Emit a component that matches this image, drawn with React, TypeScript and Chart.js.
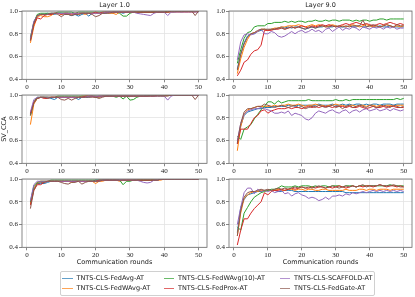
import React, { useEffect, useRef } from "react";
import { Chart, registerables } from "chart.js";

Chart.register(...registerables);

// ---------- data ----------
const ROUNDS = [1,2,3,4,5,6,7,8,9,10,11,12,13,14,15,16,17,18,19,20,21,22,23,24,25,26,27,28,29,30,31,32,33,34,35,36,37,38,39,40,41,42,43,44,45,46,47,48,49,50];
const SERIES_NAMES = ["TNTS-CLS-FedAvg-AT","TNTS-CLS-FedWAvg-AT","TNTS-CLS-FedWAvg(10)-AT","TNTS-CLS-FedProx-AT","TNTS-CLS-SCAFFOLD-AT","TNTS-CLS-FedGate-AT"];
const SERIES_COLORS = ["#1f77b4","#ff7f0e","#2ca02c","#d62728","#9467bd","#8c564b"];
const LAYER_TITLES = ["Layer 1.0","Layer 9.0"];
const X_TICKS = [0,10,20,30,40,50];
const Y_TICKS = [0.4,0.6,0.8,1.0];
const X_LABEL = "Communication rounds";
const Y_LABEL = "SV_CCA";

// Layer 1.0, row 1
const l1r1FedAvg = [0.75,0.90,0.96,0.97,0.97,0.98,0.97,0.97,0.98,0.98, 0.97,0.97,0.96,0.97,0.955,0.97,0.98,0.955,0.98,0.98, 0.98,0.98,0.98,0.99,0.98,0.99,0.99,0.98,0.99,0.99, 0.99,0.99,0.99,0.99,0.99,0.99,0.99,0.99,0.99,0.99, 0.99,0.99,0.99,1.0,0.99,1.0,1.0,1.0,1.0,1.0];
const l1r1FedWAvg = [0.72,0.86,0.95,0.96,0.95,0.95,0.96,0.98,0.98,0.97, 0.98,0.97,0.98,0.98,0.97,0.98,0.97,0.98,0.98,0.98, 0.98,0.98,0.99,0.98,0.98,0.97,0.99,0.99,0.99,0.99, 0.99,0.99,0.99,0.99,0.99,0.99,0.99,0.99,0.99,0.99, 0.99,0.99,0.99,0.99,0.99,0.99,0.99,0.99,0.99,1.0];
const l1r1FedWAvg10 = [0.77,0.90,0.97,0.98,0.98,0.98,0.98,0.98,0.99,0.99, 0.99,0.99,0.99,0.98,0.99,0.99,0.99,0.99,0.99,0.99, 0.99,0.99,0.99,0.99,0.99,0.99,0.98,0.955,0.955,0.98, 0.99,0.99,0.99,0.99,0.99,0.99,0.99,0.99,0.99,0.99, 1.0,1.0,1.0,1.0,1.0,1.0,1.0,1.0,1.0,1.0];
const l1r1FedProx = [0.74,0.88,0.94,0.93,0.96,0.97,0.97,0.98,0.98,0.97, 0.98,0.98,0.97,0.98,0.98,0.98,0.98,0.98,0.98,0.99, 0.98,0.99,0.99,0.99,0.99,0.99,0.99,0.99,0.99,0.99, 0.99,0.99,0.99,0.99,0.99,0.99,0.99,0.99,0.99,0.99, 0.99,1.0,1.0,1.0,1.0,1.0,1.0,1.0,1.0,1.0];
const l1r1Scaffold = [0.76,0.91,0.96,0.97,0.97,0.97,0.98,0.98,0.98,0.98, 0.98,0.98,0.98,0.98,0.98,0.98,0.98,0.98,0.98,0.98, 0.98,0.98,0.99,0.99,0.99,0.99,0.99,0.99,0.99,0.99, 0.99,0.98,0.975,0.97,0.965,0.96,0.98,0.99,0.99,0.99, 0.96,0.99,0.99,0.99,0.99,0.99,0.99,0.99,0.99,0.99];
const l1r1FedGate = [0.74,0.89,0.96,0.97,0.97,0.97,0.98,0.98,0.97,0.95, 0.97,0.97,0.96,0.97,0.97,0.98,0.98,0.98,0.97,0.95, 0.96,0.98,0.98,0.98,0.99,0.99,0.99,0.99,0.99,0.99, 0.99,0.99,0.99,0.99,0.99,0.99,0.99,0.99,0.99,0.99, 0.99,1.0,1.0,1.0,1.0,1.0,1.0,1.0,0.96,1.0];

// Layer 1.0, row 2
const l1r2FedAvg = [0.83,0.93,0.97,0.98,0.98,0.98,0.97,0.96,0.98,0.98, 0.98,0.98,0.98,0.98,0.96,0.98,0.98,0.98,0.99,0.98, 0.98,0.99,0.99,0.99,0.99,0.99,0.99,0.99,0.99,0.99, 0.99,0.99,0.99,0.99,1.0,1.0,1.0,1.0,1.0,1.0, 1.0,1.0,1.0,1.0,1.0,1.0,1.0,1.0,1.0,1.0];
const l1r2FedWAvg = [0.74,0.92,0.97,0.98,0.98,0.98,0.98,0.98,0.98,0.98, 0.98,0.98,0.98,0.98,0.98,0.99,0.99,0.99,0.99,0.99, 0.98,0.99,0.99,0.99,0.99,0.99,0.99,0.99,0.99,0.99, 0.99,0.99,0.99,0.99,0.99,1.0,1.0,1.0,1.0,1.0, 1.0,1.0,1.0,1.0,1.0,1.0,1.0,1.0,1.0,1.0];
const l1r2FedWAvg10 = [0.82,0.94,0.98,0.98,0.98,0.98,0.98,0.98,0.99,0.99, 0.99,0.99,0.99,0.99,0.99,0.99,0.99,0.99,0.99,0.99, 0.99,0.99,0.99,0.99,0.99,0.98,0.99,0.965,0.99,0.955, 0.96,0.98,0.99,0.99,0.99,1.0,1.0,1.0,1.0,1.0, 1.0,1.0,1.0,1.0,1.0,1.0,1.0,1.0,1.0,1.0];
const l1r2FedProx = [0.84,0.94,0.97,0.98,0.97,0.97,0.98,0.98,0.98,0.98, 0.98,0.98,0.98,0.98,0.98,0.98,0.99,0.99,0.99,0.98, 0.99,0.99,0.99,0.99,0.99,0.99,0.99,0.99,0.99,0.99, 0.99,0.99,0.99,0.99,0.99,0.99,0.99,1.0,1.0,1.0, 1.0,1.0,1.0,1.0,1.0,1.0,1.0,1.0,1.0,1.0];
const l1r2Scaffold = [0.85,0.96,0.98,0.98,0.98,0.98,0.98,0.98,0.98,0.98, 0.98,0.98,0.98,0.98,0.98,0.98,0.98,0.99,0.99,0.99, 0.99,0.99,0.99,0.99,0.99,0.99,0.99,0.99,0.99,0.99, 0.99,0.99,0.99,0.99,0.99,0.99,0.99,0.99,0.99,0.99, 0.955,0.99,1.0,1.0,1.0,1.0,1.0,1.0,1.0,1.0];
const l1r2FedGate = [0.82,0.93,0.97,0.98,0.98,0.97,0.98,0.98,0.98,0.96, 0.955,0.97,0.955,0.97,0.98,0.98,0.98,0.98,0.98,0.98, 0.97,0.98,0.99,0.99,0.99,0.99,0.99,0.99,0.99,0.99, 0.99,0.99,0.99,0.99,0.99,0.99,0.99,0.99,0.99,0.99, 0.99,1.0,1.0,1.0,1.0,1.0,1.0,1.0,0.96,1.0];

// Layer 1.0, row 3
const l1r3FedAvg = [0.79,0.92,0.96,0.96,0.96,0.97,0.98,0.98,0.98,0.98, 0.98,0.98,0.98,0.98,0.98,0.98,0.98,0.98,0.98,0.99, 0.99,0.99,0.99,0.99,0.99,0.99,0.99,0.99,0.99,0.99, 0.99,0.99,0.99,0.99,0.99,0.99,0.99,0.99,1.0,1.0, 1.0,1.0,1.0,1.0,1.0,1.0,1.0,1.0,1.0,1.0];
const l1r3FedWAvg = [0.78,0.91,0.97,0.98,0.98,0.98,0.98,0.98,0.98,0.98, 0.98,0.98,0.97,0.98,0.98,0.98,0.98,0.98,0.98,0.96, 0.98,0.98,0.99,0.99,0.99,0.99,0.98,0.99,0.99,0.99, 0.99,0.99,0.99,0.99,0.99,0.99,0.99,0.99,0.99,1.0, 1.0,1.0,1.0,1.0,1.0,1.0,1.0,1.0,1.0,1.0];
const l1r3FedWAvg10 = [0.80,0.94,0.97,0.98,0.98,0.98,0.99,0.99,0.99,0.99, 0.99,0.99,0.99,0.99,0.99,0.99,0.99,0.99,0.99,0.99, 0.99,0.99,0.99,0.99,0.99,0.99,0.99,0.95,0.98,0.98, 0.99,0.99,0.99,0.99,0.99,0.99,0.99,0.99,1.0,1.0, 1.0,1.0,1.0,1.0,1.0,1.0,1.0,1.0,1.0,1.0];
const l1r3FedProx = [0.77,0.90,0.95,0.95,0.97,0.98,0.98,0.98,0.98,0.98, 0.98,0.98,0.98,0.98,0.98,0.98,0.98,0.98,0.98,0.98, 0.99,0.99,0.99,0.99,0.99,0.99,0.99,0.99,0.99,0.99, 0.99,0.99,0.99,0.99,0.99,0.99,0.99,0.99,1.0,1.0, 1.0,1.0,1.0,1.0,1.0,1.0,1.0,1.0,1.0,1.0];
const l1r3Scaffold = [0.81,0.95,0.98,0.98,0.98,0.98,0.98,0.98,0.98,0.98, 0.98,0.98,0.98,0.98,0.98,0.98,0.98,0.98,0.98,0.98, 0.98,0.99,0.99,0.99,0.99,0.99,0.99,0.99,0.99,0.99, 0.99,0.99,0.98,0.97,0.965,0.97,0.99,0.99,1.0,1.0, 1.0,1.0,1.0,1.0,1.0,1.0,1.0,1.0,1.0,1.0];
const l1r3FedGate = [0.74,0.90,0.96,0.97,0.97,0.98,0.98,0.98,0.98,0.97, 0.96,0.955,0.97,0.97,0.98,0.955,0.97,0.98,0.98,0.98, 0.98,0.99,0.99,0.99,0.99,0.99,0.99,0.99,0.99,0.99, 0.99,0.99,0.99,0.99,0.99,0.99,0.99,0.99,1.0,1.0, 1.0,1.0,1.0,1.0,1.0,1.0,1.0,1.0,1.0,1.0];

// Layer 9.0, row 1
const l9r1FedAvg = [0.49,0.62,0.72,0.78,0.80,0.80,0.82,0.83,0.84,0.83, 0.84,0.84,0.85,0.86,0.85,0.86,0.85,0.86,0.86,0.85, 0.84,0.85,0.86,0.85,0.86,0.86,0.87,0.86,0.86,0.87, 0.86,0.86,0.86,0.87,0.86,0.86,0.87,0.86,0.86,0.87, 0.86,0.86,0.87,0.86,0.86,0.87,0.86,0.86,0.86,0.86];
const l9r1FedWAvg = [0.45,0.58,0.68,0.75,0.80,0.81,0.82,0.84,0.84,0.83, 0.84,0.85,0.85,0.86,0.86,0.87,0.87,0.87,0.88,0.87, 0.86,0.87,0.88,0.87,0.88,0.87,0.86,0.87,0.88,0.87, 0.86,0.87,0.86,0.87,0.88,0.87,0.86,0.87,0.88,0.87, 0.86,0.87,0.86,0.87,0.88,0.87,0.86,0.87,0.86,0.87];
const l9r1FedWAvg10 = [0.54,0.66,0.76,0.81,0.82,0.86,0.87,0.87,0.87,0.89, 0.89,0.90,0.90,0.90,0.91,0.90,0.91,0.90,0.91,0.91, 0.90,0.91,0.91,0.92,0.91,0.91,0.92,0.91,0.92,0.92, 0.91,0.92,0.92,0.92,0.91,0.92,0.91,0.92,0.92,0.91, 0.92,0.92,0.93,0.93,0.92,0.93,0.93,0.93,0.93,0.93];
const l9r1FedProx = [0.43,0.48,0.55,0.57,0.62,0.65,0.66,0.70,0.83,0.83, 0.83,0.84,0.84,0.85,0.84,0.85,0.86,0.85,0.86,0.87, 0.86,0.85,0.87,0.86,0.87,0.88,0.87,0.88,0.87,0.86, 0.87,0.88,0.89,0.88,0.89,0.90,0.89,0.88,0.89,0.88, 0.87,0.88,0.89,0.88,0.89,0.90,0.89,0.88,0.89,0.88];
const l9r1Scaffold = [0.57,0.73,0.79,0.80,0.79,0.80,0.82,0.84,0.80,0.80, 0.82,0.81,0.78,0.77,0.78,0.80,0.82,0.80,0.82,0.83, 0.81,0.82,0.84,0.82,0.83,0.81,0.84,0.85,0.82,0.84, 0.86,0.83,0.85,0.84,0.86,0.85,0.83,0.86,0.85,0.84, 0.86,0.85,0.86,0.84,0.86,0.85,0.86,0.84,0.85,0.85];
const l9r1FedGate = [0.48,0.62,0.71,0.77,0.80,0.81,0.83,0.84,0.84,0.84, 0.84,0.84,0.85,0.85,0.84,0.85,0.86,0.85,0.86,0.85, 0.84,0.86,0.86,0.85,0.86,0.87,0.86,0.86,0.87,0.86, 0.87,0.86,0.87,0.86,0.87,0.87,0.87,0.92,0.86,0.87, 0.88,0.87,0.86,0.87,0.88,0.87,0.86,0.88,0.87,0.87];

// Layer 9.0, row 2
const l9r2FedAvg = [0.57,0.73,0.82,0.85,0.86,0.87,0.88,0.88,0.89,0.89, 0.89,0.90,0.90,0.90,0.90,0.91,0.91,0.90,0.91,0.91, 0.91,0.91,0.91,0.91,0.92,0.91,0.91,0.91,0.92,0.91, 0.91,0.92,0.91,0.92,0.91,0.92,0.92,0.91,0.92,0.91, 0.92,0.92,0.91,0.92,0.92,0.92,0.91,0.92,0.92,0.92];
const l9r2FedWAvg = [0.51,0.72,0.83,0.87,0.88,0.89,0.90,0.90,0.90,0.90, 0.90,0.91,0.90,0.91,0.91,0.92,0.91,0.91,0.92,0.91, 0.90,0.91,0.91,0.92,0.91,0.91,0.90,0.91,0.91,0.92, 0.91,0.91,0.90,0.91,0.91,0.90,0.91,0.91,0.90,0.91, 0.91,0.90,0.91,0.90,0.91,0.91,0.90,0.91,0.91,0.91];
const l9r2FedWAvg10 = [0.64,0.61,0.70,0.72,0.74,0.79,0.83,0.87,0.90,0.94, 0.94,0.92,0.95,0.93,0.94,0.95,0.95,0.95,0.95,0.95, 0.95,0.96,0.95,0.95,0.95,0.95,0.95,0.95,0.95,0.96, 0.95,0.95,0.96,0.95,0.96,0.96,0.96,0.96,0.96,0.96, 0.96,0.96,0.96,0.96,0.96,0.96,0.96,0.97,0.96,0.97];
const l9r2FedProx = [0.57,0.70,0.70,0.70,0.75,0.80,0.82,0.86,0.87,0.84, 0.86,0.87,0.88,0.88,0.88,0.89,0.88,0.89,0.89,0.88, 0.89,0.90,0.89,0.90,0.89,0.90,0.90,0.90,0.89,0.90, 0.90,0.90,0.89,0.90,0.89,0.89,0.90,0.89,0.88,0.89, 0.90,0.89,0.89,0.90,0.89,0.90,0.90,0.89,0.89,0.89];
const l9r2Scaffold = [0.60,0.75,0.83,0.86,0.87,0.88,0.88,0.89,0.88,0.87, 0.86,0.84,0.84,0.85,0.84,0.86,0.82,0.84,0.83,0.82, 0.79,0.78,0.80,0.84,0.86,0.85,0.84,0.86,0.87,0.85, 0.84,0.86,0.87,0.84,0.86,0.87,0.85,0.87,0.88,0.86, 0.87,0.88,0.86,0.87,0.88,0.86,0.88,0.87,0.86,0.87];
const l9r2FedGate = [0.58,0.75,0.85,0.88,0.88,0.89,0.90,0.90,0.92,0.91, 0.90,0.89,0.90,0.91,0.90,0.89,0.90,0.91,0.89,0.90, 0.88,0.89,0.90,0.89,0.91,0.90,0.89,0.90,0.91,0.89, 0.90,0.88,0.90,0.91,0.89,0.90,0.91,0.90,0.89,0.91, 0.90,0.89,0.90,0.91,0.90,0.89,0.91,0.90,0.89,0.90];

// Layer 9.0, row 3
const l9r3FedAvg = [0.53,0.75,0.82,0.86,0.87,0.88,0.89,0.89,0.90,0.90, 0.90,0.90,0.89,0.89,0.90,0.90,0.90,0.89,0.89,0.89, 0.89,0.89,0.89,0.89,0.89,0.89,0.89,0.89,0.89,0.89, 0.89,0.89,0.88,0.88,0.88,0.88,0.88,0.88,0.88,0.88, 0.88,0.88,0.88,0.88,0.88,0.88,0.88,0.88,0.88,0.88];
const l9r3FedWAvg = [0.50,0.70,0.83,0.86,0.88,0.89,0.89,0.90,0.90,0.90, 0.90,0.90,0.91,0.90,0.90,0.91,0.91,0.90,0.91,0.91, 0.90,0.91,0.91,0.90,0.90,0.91,0.91,0.90,0.90,0.90, 0.90,0.90,0.91,0.90,0.90,0.90,0.91,0.91,0.90,0.91, 0.91,0.90,0.91,0.91,0.91,0.90,0.91,0.91,0.91,0.91];
const l9r3FedWAvg10 = [0.58,0.55,0.70,0.75,0.80,0.84,0.86,0.88,0.89,0.90, 0.91,0.91,0.92,0.94,0.93,0.93,0.93,0.94,0.93,0.94, 0.94,0.94,0.93,0.94,0.93,0.94,0.94,0.93,0.94,0.94, 0.94,0.93,0.94,0.94,0.94,0.93,0.94,0.94,0.94,0.94, 0.94,0.94,0.94,0.94,0.94,0.95,0.94,0.94,0.94,0.94];
const l9r3FedProx = [0.42,0.55,0.65,0.65,0.70,0.74,0.77,0.80,0.88,0.86, 0.89,0.90,0.90,0.91,0.90,0.91,0.92,0.91,0.92,0.93, 0.92,0.92,0.93,0.92,0.93,0.93,0.92,0.93,0.92,0.93, 0.94,0.93,0.92,0.93,0.94,0.93,0.94,0.93,0.94,0.94, 0.93,0.94,0.95,0.94,0.93,0.94,0.94,0.93,0.94,0.93];
const l9r3Scaffold = [0.60,0.75,0.88,0.92,0.92,0.87,0.91,0.89,0.90,0.89, 0.90,0.88,0.89,0.90,0.87,0.88,0.85,0.87,0.88,0.86, 0.85,0.83,0.84,0.83,0.81,0.82,0.84,0.82,0.85,0.85, 0.86,0.85,0.87,0.86,0.88,0.87,0.88,0.89,0.88,0.89, 0.90,0.89,0.90,0.89,0.90,0.89,0.90,0.89,0.90,0.89];
const l9r3FedGate = [0.50,0.72,0.84,0.88,0.89,0.89,0.90,0.91,0.90,0.91, 0.90,0.91,0.92,0.91,0.92,0.91,0.92,0.93,0.92,0.93, 0.92,0.93,0.92,0.93,0.94,0.93,0.92,0.93,0.94,0.93, 0.92,0.93,0.94,0.93,0.94,0.93,0.94,0.95,0.93,0.94, 0.94,0.94,0.95,0.94,0.94,0.94,0.95,0.94,0.93,0.93];

const PANELS = [
  [[l1r1FedAvg,l1r1FedWAvg,l1r1FedWAvg10,l1r1FedProx,l1r1Scaffold,l1r1FedGate],
   [l9r1FedAvg,l9r1FedWAvg,l9r1FedWAvg10,l9r1FedProx,l9r1Scaffold,l9r1FedGate]],
  [[l1r2FedAvg,l1r2FedWAvg,l1r2FedWAvg10,l1r2FedProx,l1r2Scaffold,l1r2FedGate],
   [l9r2FedAvg,l9r2FedWAvg,l9r2FedWAvg10,l9r2FedProx,l9r2Scaffold,l9r2FedGate]],
  [[l1r3FedAvg,l1r3FedWAvg,l1r3FedWAvg10,l1r3FedProx,l1r3Scaffold,l1r3FedGate],
   [l9r3FedAvg,l9r3FedWAvg,l9r3FedWAvg10,l9r3FedProx,l9r3Scaffold,l9r3FedGate]],
];

// ---------- layout / style ----------
const SANS = "'DejaVu Sans', sans-serif";
const SERIF = "'Liberation Serif', serif";
const TEXT = "#222222";
const FRAME = "#6a6a6a";
const GRID = "#e3e3e3";
const PLOT_H = 68.3;
const TITLE_H = 11;
const Y_W = 22;
const X_MIN = -1.45;
const X_MAX = 52.45;
const ROWS = [{ top: 0, height: 92, padTop: 0 }, { top: 89, height: 88, padTop: 6 }, { top: 173, height: 93, padTop: 6 }];
const COLS = [{ left: 0, width: 212, padRight: 5 }, { left: 207, width: 208, padRight: 3 }];
const LEGEND_BOX = { left: 60, top: 270.5, width: 315, height: 25.5 };
const LEGEND_COL_X = [62, 163.5, 279.5];
const LEGEND_ROW_Y = [278.3, 288.3];

const framePlugin = {
  id: "panelFrame",
  afterDatasetsDraw(chart: any) {
    const { ctx, chartArea: a } = chart;
    ctx.save();
    ctx.strokeStyle = FRAME;
    ctx.lineWidth = 0.8;
    ctx.strokeRect(a.left, a.top, a.right - a.left, a.bottom - a.top);
    ctx.restore();
  },
};

function Panel(p: any) {
  const ref = useRef<HTMLCanvasElement>(null);
  useEffect(() => {
    const canvas = ref.current;
    if (!canvas) return;
    const hasTitle = !!p.title;
    const xH = p.height - p.padTop - (hasTitle ? TITLE_H : 0) - PLOT_H;
    const grid = { color: GRID, lineWidth: 0.8, drawTicks: true, tickLength: 3, tickColor: FRAME, tickWidth: 0.8 };
    const chart = new Chart(canvas, {
      type: "line",
      data: {
        labels: ROUNDS,
        datasets: p.series.map((vals: number[], i: number) => ({
          label: SERIES_NAMES[i], data: vals, borderColor: SERIES_COLORS[i], backgroundColor: SERIES_COLORS[i],
          borderWidth: 1, pointRadius: 0, pointHoverRadius: 0, fill: false, tension: 0, order: p.series.length - 1 - i,
        })),
      },
      options: {
        responsive: false, maintainAspectRatio: false, animation: false, devicePixelRatio: 1, events: [],
        layout: { padding: { top: p.padTop, right: p.padRight, left: 0, bottom: 0 } },
        plugins: {
          legend: { display: false }, tooltip: { enabled: false },
          title: { display: hasTitle, text: p.title || "", fullSize: false, color: TEXT,
            font: { family: SANS, size: 6.5, weight: "normal", lineHeight: 1.2 }, padding: { top: 1.1, bottom: 2.1 } },
        },
        scales: {
          x: {
            type: "linear", min: X_MIN, max: X_MAX,
            afterBuildTicks: (s: any) => { s.ticks = X_TICKS.map((v) => ({ value: v })); },
            afterFit: (s: any) => { s.height = xH; },
            ticks: { autoSkip: false, maxRotation: 0, minRotation: 0, padding: 1, color: TEXT, font: { family: SERIF, size: 7 }, callback: (v: any) => String(v) },
            grid, border: { display: false },
            title: { display: p.showXTitle, text: X_LABEL, color: TEXT, font: { family: SANS, size: 6.5, lineHeight: 1.2 }, padding: 0 },
          },
          y: {
            type: "linear", min: 0.4, max: 1.0,
            afterBuildTicks: (s: any) => { s.ticks = Y_TICKS.map((v) => ({ value: v })); },
            afterFit: (s: any) => { s.width = Y_W; },
            ticks: { padding: 1, color: TEXT, font: { family: SERIF, size: 7 }, callback: (v: any) => Number(v).toFixed(1) },
            grid, border: { display: false },
            title: { display: p.showYTitle, text: Y_LABEL, color: TEXT, font: { family: SANS, size: 6.5, lineHeight: 1.2 }, padding: { top: 0.6, bottom: 0 } },
          },
        },
      } as any,
      plugins: [framePlugin],
    });
    return () => chart.destroy();
  }, []);
  return <canvas ref={ref} width={p.width} height={p.height} style={{ position: "absolute", left: p.left, top: p.top, width: p.width, height: p.height }} />;
}

export default function App() {
  return (
    <div style={{ position: "fixed", left: 0, top: 0, width: 415, height: 297, background: "#ffffff", overflow: "hidden" }}>
      {ROWS.map((r, ri) => COLS.map((c, ci) => (
        <Panel key={ri + "-" + ci} left={c.left} top={r.top} width={c.width} height={r.height}
          padTop={r.padTop} padRight={c.padRight} title={ri === 0 ? LAYER_TITLES[ci] : undefined}
          series={PANELS[ri][ci]} showXTitle={ri === 2} showYTitle={ri === 1 && ci === 0} />
      )))}
      <div style={{ position: "absolute", left: LEGEND_BOX.left, top: LEGEND_BOX.top, width: LEGEND_BOX.width, height: LEGEND_BOX.height,
        border: "0.8px solid #d0d0d0", borderRadius: 2, boxSizing: "border-box", background: "rgba(255,255,255,0.8)" }} />
      {SERIES_NAMES.map((name, i) => {
        const x = LEGEND_COL_X[Math.floor(i / 2)];
        const y = LEGEND_ROW_Y[i % 2];
        return (
          <React.Fragment key={name}>
            <div style={{ position: "absolute", left: x, top: y - 0.6, width: 10.5, height: 1.2, background: SERIES_COLORS[i], opacity: 0.7 }} />
            <div style={{ position: "absolute", left: x + 14.5, top: y, transform: "translateY(-50%)", fontFamily: SANS, fontSize: 6.5, lineHeight: 1, color: TEXT, whiteSpace: "nowrap" }}>{name}</div>
          </React.Fragment>
        );
      })}
    </div>
  );
}
